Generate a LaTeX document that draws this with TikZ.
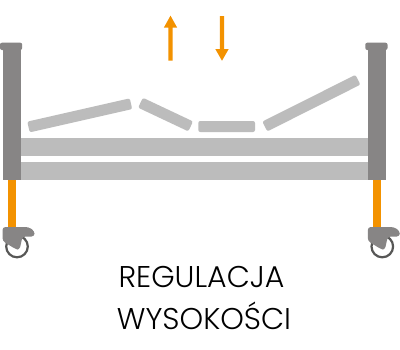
\documentclass[tikz,border=0pt]{standalone}
\usepackage{fontspec}
\setmainfont{Poppins Light}
\definecolor{frame}{HTML}{878585}
\definecolor{deck}{HTML}{BCBCBC}
\definecolor{lift}{HTML}{F39200}
\definecolor{tyre}{HTML}{575756}
\tikzset{
  post/.style={fill=frame},
  rail/.style={fill=deck},
  leg/.style={fill=lift},
  arrowshape/.style={fill=lift},
  label/.style={inner sep=0pt,anchor=base,font=\fontsize{30}{30}\selectfont,text=black}
}
% One mattress section: centre line from #1 to #2, 11 units wide
\newcommand{\decksection}[2]{%
  \path let \p1=($(#2)-(#1)$), \n1={atan2(\y1,\x1)} in
    [fill=deck,shift={(#1)},rotate=\n1] (0,-5.5) [rounded corners=2pt] rectangle ({veclen(\x1,\y1)},5.5);%
}
% Head post with its cap, leg and castor; #1 is the post's left edge
\newcommand{\bedend}[1]{%
  \begin{scope}[shift={(#1,0)}]
    \fill[leg] (5.3,179) rectangle (13,229);
    \fill[post] (0,50) rectangle (18,180);
    \fill[post,rounded corners=2pt] (-2.5,42.7) rectangle (19.7,50);
    \draw[tyre,line width=2.2pt] (14.5,246.5) circle (10.8);
    \fill[post,rounded corners=3pt] (0,227) -- (26,227) -- (32,231) -- (32,236.5) -- (20,236.5)
      -- (17,250) -- (13,249) -- (0,241) -- cycle;
  \end{scope}%
}
\usetikzlibrary{calc}
\begin{document}
\begin{tikzpicture}[x=1pt,y=-1pt]
  \useasboundingbox (0,0) rectangle (400,349);
  \fill[white] (0,0) rectangle (400,349);
  % side rails
  \fill[rail] (20,137.5) rectangle (368,156);
  \fill[rail] (20,162) rectangle (368,180);
  % bed ends
  \bedend{2.5}
  \bedend{367.8}
  % mattress platform
  \decksection{28.5,127}{131,103.7}
  \decksection{140.5,102.7}{190.7,126.4}
  \decksection{198.3,126.5}{255,126.5}
  \decksection{264.8,126.5}{358,79.7}
  % height arrows
  \fill[arrowshape] (170.5,15.7) -- (177.2,27.7) -- (172.7,27.7) -- (172.7,60.7)
    -- (168.3,60.7) -- (168.3,27.7) -- (163.8,27.7) -- cycle;
  \fill[arrowshape] (222,60.7) -- (228.7,49) -- (224.2,49) -- (224.2,16)
    -- (219.8,16) -- (219.8,49) -- (215.3,49) -- cycle;
  % caption
  \node[label] (l1) at (201.5,287) {REGULACJA};
  \node[label] (l2) at (204,329.5) {WYSOKOŚCI};
\end{tikzpicture}
\end{document}
